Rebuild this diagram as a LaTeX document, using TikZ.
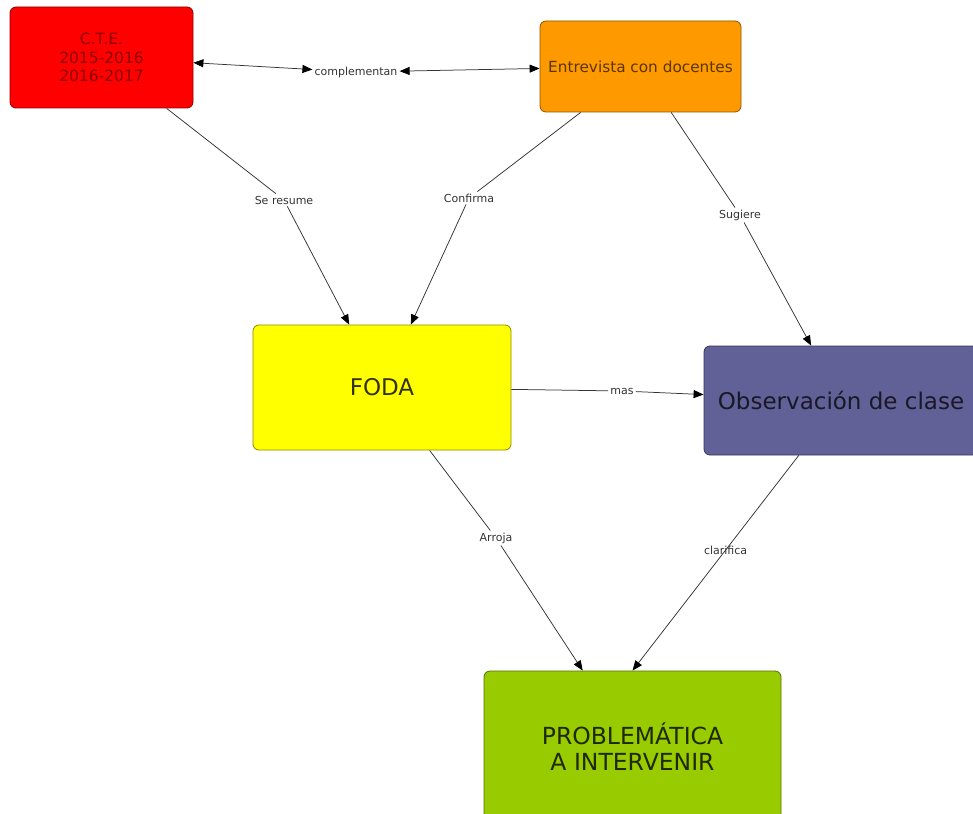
\documentclass[tikz,border=0pt]{standalone}
\usepackage{fontspec}
\setmainfont{DejaVu Sans}
\usetikzlibrary{arrows.meta}
\definecolor{ctered}{HTML}{FF0000}
\definecolor{entorange}{HTML}{FF9900}
\definecolor{fodayellow}{HTML}{FFFF00}
\definecolor{obspurple}{HTML}{616197}
\definecolor{probgreen}{HTML}{99CC00}
\definecolor{linkgray}{HTML}{333333}
\begin{document}
\begin{tikzpicture}[x=1pt, y=-1pt,
			concept/.style={rectangle, rounded corners=6pt, line width=0.8pt, fill=#1, draw=#1!55!black, align=center},
			linkword/.style={font=\fontsize{11}{13}\selectfont, text=linkgray, inner sep=2pt},
			link/.style={draw=linkgray, line width=0.75pt},
			>={Triangle[length=10pt,width=8pt,color=black]},
			]
			\useasboundingbox (0,0) rectangle (973,813);
			\node[concept=ctered, minimum width=183pt, minimum height=101pt, text=ctered!55!black, font=\fontsize{15.5}{18.5}\selectfont] at (101.5,57.5) (cte) {C.T.E.\\2015-2016\\2016-2017};
			\node[concept=entorange, minimum width=201pt, minimum height=91pt, text=entorange!35!black, font=\fontsize{15.3}{18}\selectfont] at (640.5,66.5) (entrevista) {Entrevista con docentes};
			\node[concept=fodayellow, minimum width=258pt, minimum height=125pt, text=fodayellow!20!black, font=\fontsize{23}{27}\selectfont] at (382,387.5) (foda) {FODA};
			\node[concept=obspurple, minimum width=274pt, minimum height=109pt, text=obspurple!25!black, font=\fontsize{23}{27}\selectfont] at (841,400.5) (obs) {Observación de clase};
			\node[concept=probgreen, minimum width=297pt, minimum height=152pt, text=probgreen!20!black, font=\fontsize{23.5}{26}\selectfont] at (632.5,747) (prob) {PROBLEMÁTICA\\ A INTERVENIR};
			\node[linkword] at (356,72) (complementan) {complementan};
			\node[linkword] at (284,200) (seresume) {Se resume};
			\node[linkword] at (469,198) (confirma) {Confirma};
			\node[linkword] at (740,215) (sugiere) {Sugiere};
			\node[linkword] at (622,391) (mas) {mas};
			\node[linkword] at (496,538) (arroja) {Arroja};
			\draw[link,<->] (cte) -- (complementan);
			\draw[link,<->] (complementan) -- (entrevista);
			\draw[link] (cte) -- (seresume);
			\draw[link,->] (seresume) -- (foda);
			\draw[link] (entrevista) -- (confirma);
			\draw[link,->] (confirma) -- (foda);
			\draw[link] (entrevista) -- (sugiere);
			\draw[link,->] (sugiere) -- (obs);
			\draw[link] (foda) -- (mas);
			\draw[link,->] (mas) -- (obs);
			\draw[link] (foda) -- (arroja);
			\draw[link,->] (arroja) -- (prob);
			\draw[link,->] (obs) -- node[linkword, pos=0.44] (clarifica) {clarifica} (prob.north);
		\end{tikzpicture}
\end{document}
